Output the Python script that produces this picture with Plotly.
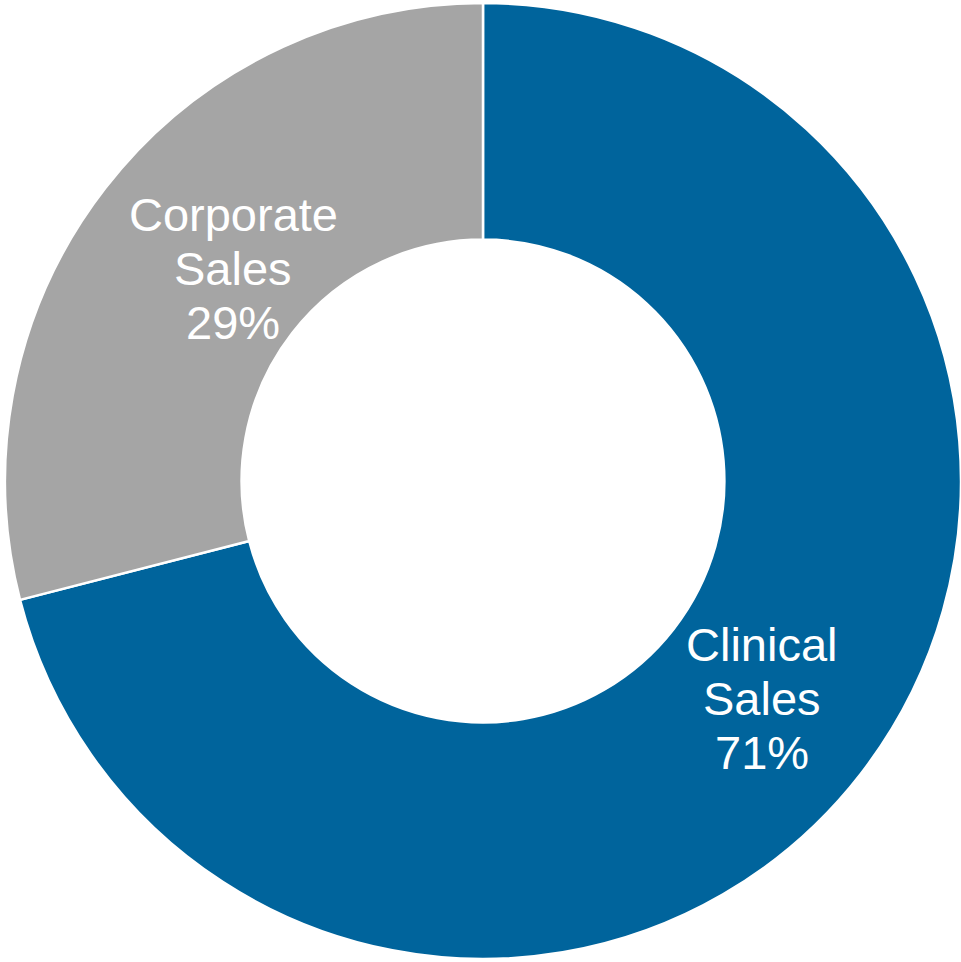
import plotly.graph_objects as go

labels = ["Clinical Sales", "Corporate Sales"]
values = [71, 29]
colors = ["#00649C", "#A5A5A5"]

# label text lines (split label + percent)
label_lines = [["Clinical", "Sales"], ["Corporate", "Sales"]]
# label anchor (center x px, first baseline px) in the 961x962 canvas
label_pos = [(762, 660), (233, 230)]
line_step = 54
font_size = 47

W, H = 961, 962

fig = go.Figure(go.Pie(
    labels=labels,
    values=values,
    sort=False,
    direction="clockwise",
    rotation=0,
    hole=0.505,
    marker=dict(colors=colors, line=dict(color="white", width=2.5)),
    textinfo="none",
    domain=dict(x=[0.0052, 1.0], y=[0.003, 0.997]),
    showlegend=False,
    hoverinfo="label+percent",
))

total = sum(values)
annotations = []
for lines, v, (cx, by) in zip(label_lines, values, label_pos):
    all_lines = lines + [f"{round(100 * v / total)}%"]
    for i, t in enumerate(all_lines):
        base = by + i * line_step
        ymid = base - 0.34 * font_size
        annotations.append(dict(
            text=t, x=cx / W, y=1 - ymid / H, xref="paper", yref="paper",
            xanchor="center", yanchor="middle", showarrow=False,
            font=dict(family="Liberation Sans, Arial, sans-serif", size=font_size, color="white"),
        ))

fig.update_layout(
    width=W, height=H,
    margin=dict(l=0, r=0, t=0, b=0),
    paper_bgcolor="white",
    plot_bgcolor="white",
    annotations=annotations,
)

fig.write_html("out.html")
